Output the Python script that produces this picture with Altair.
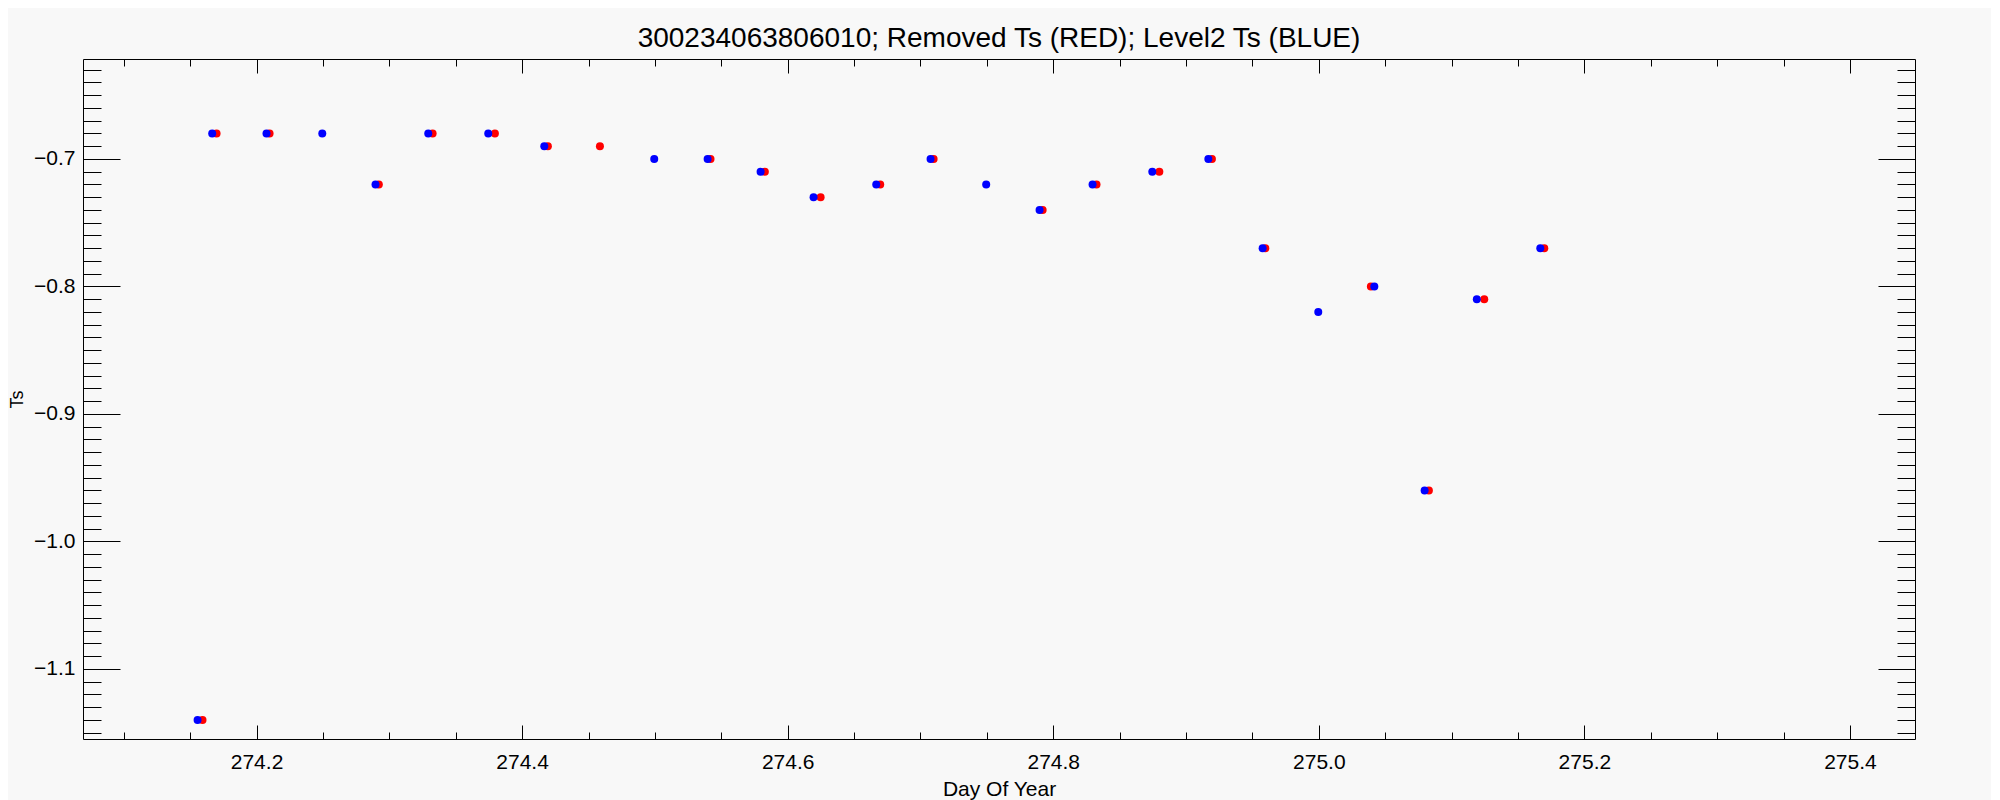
import altair as alt
import pandas as pd
import numpy as np

# ---- data ----
blue_day = [274.1556, 274.1666, 274.2075, 274.2495, 274.2896, 274.3293, 274.3745,
            274.4167, 274.4995, 274.5397, 274.5796, 274.6195, 274.6667, 274.7076,
            274.7495, 274.7897, 274.8296, 274.8746, 274.9168, 274.9577, 274.9996,
            275.0418, 275.0797, 275.1190, 275.1668]
blue_ts = [-1.14, -0.68, -0.68, -0.68, -0.72, -0.68, -0.68,
           -0.69, -0.70, -0.70, -0.71, -0.73, -0.72, -0.70,
           -0.72, -0.74, -0.72, -0.71, -0.70, -0.77, -0.82,
           -0.80, -0.96, -0.81, -0.77]

red_day = [274.1593, 274.1699, 274.2098, 274.2921, 274.3326, 274.3795, 274.4194,
           274.4586, 274.5419, 274.5828, 274.6248, 274.6697, 274.7099, 274.7920,
           274.8326, 274.8799, 274.9195, 274.9597, 275.0392, 275.0829, 275.1246,
           275.1698]
red_ts = [-1.14, -0.68, -0.68, -0.72, -0.68, -0.68, -0.69,
          -0.69, -0.70, -0.71, -0.73, -0.72, -0.70, -0.74,
          -0.72, -0.71, -0.70, -0.77, -0.80, -0.96, -0.81,
          -0.77]

x_domain = [274.0693, 275.449]
y_domain = [-1.1549, -0.6216]
x_major = [274.2, 274.4, 274.6, 274.8, 275.0, 275.2, 275.4]
x_minor = [round(v, 2) for v in np.arange(274.10, 275.401, 0.05)]
y_major = [-1.1, -1.0, -0.9, -0.8, -0.7]
y_minor = [round(v, 2) for v in np.arange(-1.15, -0.6299, 0.01)]

title_text = "300234063806010; Removed Ts (RED); Level2 Ts (BLUE)"
FONT = "Liberation Sans"

blue_df = pd.DataFrame({"day": blue_day, "ts": blue_ts})
red_df = pd.DataFrame({"day": red_day, "ts": red_ts})

xs = alt.Scale(domain=x_domain, nice=False, zero=False)
ys = alt.Scale(domain=y_domain, nice=False, zero=False)

common_axis = dict(domain=False, grid=False, tickColor="black", tickWidth=1,
                   labelColor="black", labelFont=FONT, labelFontSize=21,
                   titleFont=FONT, titleColor="black", titleFontWeight="normal")


def ax(orient, values, size, labels=False, title=None, fmt=None, **kw):
    d = dict(common_axis)
    d.update(orient=orient, values=values, tickSize=size, offset=-size, labels=labels)
    d["title"] = title if title is not None else ""
    if fmt:
        d["format"] = fmt
    d.update(kw)
    return alt.Axis(**d)


red_layer = alt.Chart(red_df).mark_circle(size=64, opacity=1, color="#ff0000").encode(
    x=alt.X("day:Q", scale=xs, axis=ax("bottom", x_minor, 7)),
    y=alt.Y("ts:Q", scale=ys, axis=ax("left", y_minor, 18)),
)

blue_layer = alt.Chart(blue_df).mark_circle(size=64, opacity=1, color="#0000ff").encode(
    x=alt.X("day:Q", scale=xs,
            axis=ax("bottom", x_major, 14, labels=True, title="Day Of Year", fmt=".1f",
                    labelPadding=12, titlePadding=6, titleFontSize=21)),
    y=alt.Y("ts:Q", scale=ys,
            axis=ax("left", y_major, 37, labels=True, title="Ts", fmt=".1f",
                    labelPadding=8, titlePadding=7, titleFontSize=18)),
)

top_major = alt.Chart(blue_df).mark_circle(opacity=0).encode(
    x=alt.X("day:Q", scale=xs, axis=ax("top", x_major, 14)),
    y=alt.Y("ts:Q", scale=ys, axis=ax("right", y_major, 37)),
)

top_minor = alt.Chart(blue_df).mark_circle(opacity=0).encode(
    x=alt.X("day:Q", scale=xs, axis=ax("top", x_minor, 7)),
    y=alt.Y("ts:Q", scale=ys, axis=ax("right", y_minor, 18)),
)

chart = alt.layer(red_layer, blue_layer, top_major, top_minor).resolve_axis(
    x="independent", y="independent"
).properties(
    width=1832,
    height=680,
    padding={"left": 0, "top": 16, "right": 75, "bottom": 12},
    background="#f8f8f8",
    title=alt.TitleParams(title_text, font=FONT, fontSize=28, fontWeight="normal",
                          color="black", offset=6, anchor="middle"),
).configure_view(
    stroke="black", strokeWidth=1, fill="#f8f8f8"
)

chart.save("out.html", embed_options={"renderer": "svg", "actions": False})
